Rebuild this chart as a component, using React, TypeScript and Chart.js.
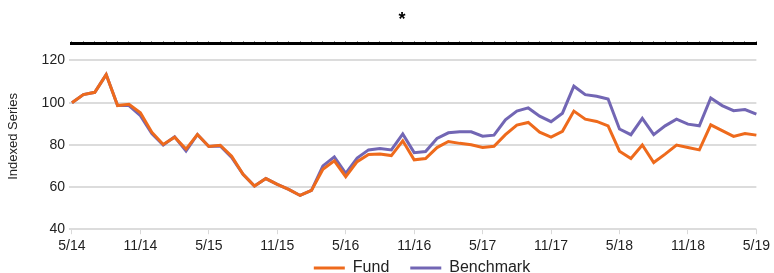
import React, { useEffect, useRef } from "react";
import { Chart, registerables } from "chart.js";

Chart.register(...registerables);

const months: string[] = [
  "5/14", "6/14", "7/14", "8/14", "9/14", "10/14", "11/14", "12/14",
  "1/15", "2/15", "3/15", "4/15", "5/15", "6/15", "7/15", "8/15", "9/15", "10/15", "11/15", "12/15",
  "1/16", "2/16", "3/16", "4/16", "5/16", "6/16", "7/16", "8/16", "9/16", "10/16", "11/16", "12/16",
  "1/17", "2/17", "3/17", "4/17", "5/17", "6/17", "7/17", "8/17", "9/17", "10/17", "11/17", "12/17",
  "1/18", "2/18", "3/18", "4/18", "5/18", "6/18", "7/18", "8/18", "9/18", "10/18", "11/18", "12/18",
  "1/19", "2/19", "3/19", "4/19", "5/19",
];

const fund: number[] = [
  100, 103.8, 104.9, 113.3, 98.6, 99.2, 95.2, 86, 80.2, 83.6, 78, 84.9, 79.2, 79.8, 74.6, 66,
  60.5, 64, 61.3, 58.9, 56, 58.4, 68.4, 72.4, 64.9, 72, 75.4, 75.7, 74.9, 81.9,
  72.9, 73.5, 78.7, 81.6, 80.7, 80, 78.7, 79.3, 84.8, 89.4, 90.6, 86, 83.7, 86.4, 96,
  92.2, 91.1, 89, 77, 73.5, 79.9, 71.6, 75.6, 79.9, 78.7, 77.6, 89.5, 86.7, 84, 85.4, 84.6,
];

const benchmark: number[] = [
  100, 103.8, 104.9, 113.3, 98.6, 98.6, 93.8, 85.4, 79.9, 83.8, 77.1, 84.9, 79.2, 79.5, 74, 66,
  60.5, 64, 61.3, 58.9, 56, 58.4, 70, 74.3, 66.5, 73.7, 77.6, 78.2, 77.6, 85.2,
  76.3, 76.8, 83, 85.7, 86.2, 86.2, 84.1, 84.6, 91.9, 96, 97.5, 93.6, 91, 95, 107.8,
  103.8, 103, 101.7, 87.5, 84.8, 92.5, 84.8, 89, 92.2, 89.8, 89, 102.2, 98.6, 96.2, 96.7, 94.6,
];

const yTicks: number[] = [40, 60, 80, 100, 120];

const FONT = "'Liberation Sans', Arial, sans-serif";
const ORANGE = "#EE6A1C";
const PURPLE = "#7266B4";
const LEGEND_PAD = 21;

// Keeps the legend compact vertically while keeping wide horizontal spacing,
// and nudges the title / legend horizontally.
const legendLayout = {
  id: "legendLayout",
  beforeLayout(chart: any) {
    const lg = chart.legend;
    if (lg && !lg.__patched) {
      const orig = lg.fit.bind(lg);
      lg.fit = () => {
        orig();
        lg.height = 14;
      };
      lg.__patched = true;
    }
  },
  afterLayout(chart: any) {
    const lg = chart.legend;
    if (lg) {
      lg.top = chart.height - 13 - LEGEND_PAD;
      lg.bottom = chart.height;
      lg.left += 33;
      lg.right += 33;
    }
    const tb = chart.titleBlock;
    if (tb) {
      tb.left += 13;
      tb.right += 13;
    }
  },
};

export default function App() {
  const ref = useRef<HTMLCanvasElement | null>(null);

  useEffect(() => {
    document.body.style.margin = "0";
    const canvas = ref.current;
    if (!canvas) return;
    const chart = new Chart(canvas, {
      type: "line",
      data: {
        labels: months,
        datasets: [
          {
            label: "Fund",
            data: fund,
            borderColor: ORANGE,
            backgroundColor: ORANGE,
            borderWidth: 3,
            pointRadius: 0,
            pointStyle: "line",
            tension: 0,
          },
          {
            label: "Benchmark",
            data: benchmark,
            borderColor: PURPLE,
            backgroundColor: PURPLE,
            borderWidth: 3,
            pointRadius: 0,
            pointStyle: "line",
            tension: 0,
          },
        ],
      },
      plugins: [legendLayout],
      options: {
        animation: false,
        responsive: false,
        maintainAspectRatio: false,
        layout: { padding: { left: 4, right: 0, top: 4, bottom: 0 } },
        plugins: {
          title: {
            display: true,
            text: "*",
            color: "#000",
            font: { family: FONT, size: 18, weight: "bold" },
            padding: { top: 5, bottom: 11 },
          },
          legend: {
            display: true,
            position: "bottom",
            labels: {
              usePointStyle: true,
              pointStyleWidth: 31,
              color: "#222",
              font: { family: FONT, size: 16 },
              padding: LEGEND_PAD,
            },
          },
          tooltip: { enabled: false },
        },
        scales: {
          x: {
            type: "category",
            offset: false,
            grid: {
              drawOnChartArea: false,
              drawTicks: true,
              tickLength: 5,
              color: (ctx: any) => (ctx.index % 6 === 0 ? "#d9d9d9" : "rgba(0,0,0,0)"),
            },
            border: { display: false },
            ticks: {
              autoSkip: false,
              maxRotation: 0,
              color: "#222",
              font: { family: FONT, size: 14 },
              padding: 4,
              callback: (_v: any, i: number) => (i % 6 === 0 ? months[i] : ""),
            },
          },
          x2: {
            type: "category",
            position: "top",
            labels: months,
            offset: false,
            grid: {
              drawOnChartArea: false,
              drawTicks: true,
              tickLength: 2,
              color: "#000",
              lineWidth: 1,
            },
            border: { display: true, color: "#000", width: 3 },
            ticks: { display: false },
          },
          y: {
            min: 40,
            max: 128,
            afterBuildTicks: (scale: any) => {
              scale.ticks = yTicks.map((v) => ({ value: v }));
            },
            grid: {
              color: "#dcdcdc",
              lineWidth: 2,
              drawTicks: true,
              tickLength: 3,
            },
            border: { display: false },
            ticks: {
              color: "#222",
              font: { family: FONT, size: 14 },
              padding: 4,
            },
            title: {
              display: true,
              text: "Indexed Series",
              color: "#222",
              font: { family: FONT, size: 13 },
              padding: { top: 2, bottom: 16 },
            },
          },
        },
      },
    });
    return () => chart.destroy();
  }, []);

  return (
    <div style={{ width: 774, height: 273 }}>
      <canvas ref={ref} width={774} height={273} style={{ display: "block" }} />
    </div>
  );
}
